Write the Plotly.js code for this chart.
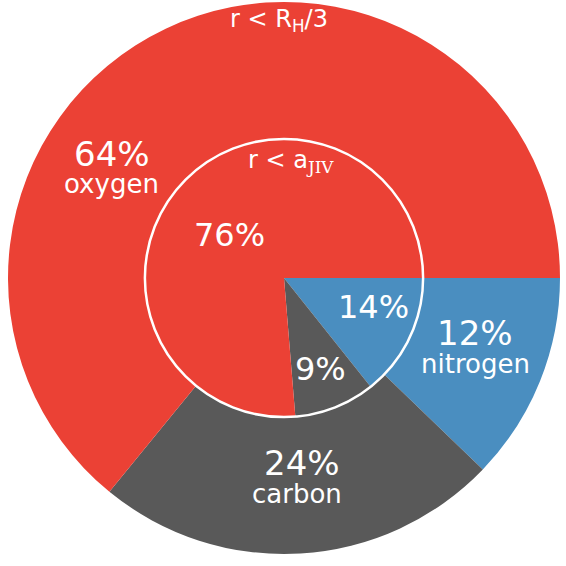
<!DOCTYPE html>
<html>
<head>
<meta charset="utf-8">
<script src="https://cdn.plot.ly/plotly-3.0.1.min.js"></script>
<style>
  html, body { margin: 0; padding: 0; background: #fff; }
  #chart { width: 566px; height: 566px; }
</style>
</head>
<body>
<div id="chart"></div>
<script>
// outer ring: r < R_H/3
var outerLabels = ['nitrogen', 'carbon', 'oxygen'];
var outerValues = [12.2, 23.7, 64.1];
// inner disc: r < a_JIV
var innerLabels = ['nitrogen', 'carbon', 'oxygen'];
var innerValues = [14.3, 9.4, 76.3];

var colors = ['#4A8EC0', '#595959', '#EB4135'];

// where the labels sit, in pixels of the 566x566 picture
var outerPctPos = [[475, 333], [302, 463], [112, 154]];
var outerNamePos = [[475, 364], [297, 494], [111, 184]];
var innerPctPos = [[373, 307], [320, 369], [229, 235]];

// plot area is 552x552, starting at (8, 2)
function toPaper(p) {
    return {x: (p[0] - 8) / 552, y: (554 - p[1]) / 552};
}

function pct(values) {
    var total = values.reduce(function (a, b) { return a + b; });
    return values.map(function (v) { return Math.round(v / total * 100) + '%'; });
}

function label(text, pos, size) {
    var p = toPaper(pos);
    return {
        text: text, x: p.x, y: p.y, xref: 'paper', yref: 'paper',
        xanchor: 'center', yanchor: 'middle', showarrow: false,
        font: {family: 'DejaVu Sans', size: size, color: '#fff'}
    };
}

var outer = {
    type: 'pie',
    labels: outerLabels,
    values: outerValues,
    sort: false,
    direction: 'clockwise',
    rotation: 90,
    hole: 0.504,
    marker: {colors: colors, line: {width: 0}},
    textinfo: 'none',
    hoverinfo: 'label+percent',
    domain: {x: [0, 1], y: [0, 1]}
};

var inner = {
    type: 'pie',
    labels: innerLabels,
    values: innerValues,
    sort: false,
    direction: 'clockwise',
    rotation: 90,
    marker: {colors: colors, line: {width: 0}},
    textinfo: 'none',
    hoverinfo: 'label+percent',
    domain: {x: [0.248, 0.752], y: [0.248, 0.752]}
};

var annotations = [
    label('r < R<sub>H</sub>/3', [279, 20], 24),
    label("r < a<sub><span style='font-family:DejaVu Serif'>JIV</span></sub>", [291, 162], 24)
];

var outerPct = pct(outerValues);
var innerPct = pct(innerValues);
for (var i = 0; i < outerLabels.length; i++) {
    annotations.push(label(outerPct[i], outerPctPos[i], 34));
    annotations.push(label(outerLabels[i], outerNamePos[i], 26));
    annotations.push(label(innerPct[i], innerPctPos[i], 32));
}

var layout = {
    width: 566,
    height: 566,
    margin: {l: 8, r: 6, t: 2, b: 12},
    paper_bgcolor: '#fff',
    showlegend: false,
    font: {family: 'DejaVu Sans', color: '#fff'},
    shapes: [{
        type: 'circle', xref: 'paper', yref: 'paper',
        x0: 0.248, x1: 0.752, y0: 0.248, y1: 0.752,
        line: {color: '#fff', width: 2.5}
    }],
    annotations: annotations
};

Plotly.newPlot('chart', [outer, inner], layout, {displayModeBar: false});
</script>
</body>
</html>
